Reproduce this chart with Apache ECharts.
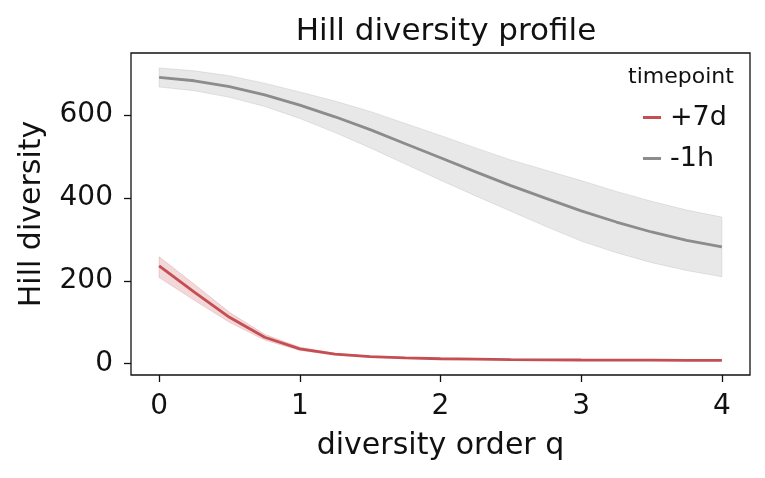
<!DOCTYPE html>
<html>
<head>
<meta charset="utf-8">
<script src="https://cdn.jsdelivr.net/npm/echarts@6/dist/echarts.min.js"></script>
<style>html,body{margin:0;padding:0;background:#fff;}#c{width:765px;height:478px;}</style>
</head>
<body>
<div id="c"></div>
<script>
const q = [0,0.25,0.5,0.75,1,1.25,1.5,1.75,2,2.25,2.5,2.75,3,3.25,3.5,3.75,4];
const red_mean  = [236,173,112,64,36,23,17,14,12,11,10,9.5,9,8.7,8.5,8.2,8];
const red_lower = [208,153,100,57,32,21,16,13,11,10,9.3,8.8,8.4,8.1,7.9,7.6,7.4];
const red_upper = [258,192,124,71,40,25,18.5,15,13,12,10.8,10.2,9.6,9.3,9.1,8.8,8.6];
const gray_mean  = [691,683,669,649,624,596,565,531,497,463,430,399,369,342,318,298,282];
const gray_lower = [668,659,643,621,592,558,521,482,443,405,368,331,296,268,244,225,210];
const gray_upper = [714,707,695,677,656,634,609,580,551,521,492,467,442,416,392,371,354];
const xTicks = [0,1,2,3,4];
const yTicks = [0,200,400,600];
const seriesNames = ['+7d','-1h'];

const RED = '#c44e52', GRAY = '#8c8c8c';
const pts = arr => q.map((x,i)=>[x,arr[i]]);

function band(lower, upper, fill, stroke){
  return {
    type:'custom', silent:true, z:1,
    data:[[q[0], lower[0]]],
    renderItem:(params, api)=>{
      const points = [];
      for (let i=0;i<q.length;i++) points.push(api.coord([q[i], upper[i]]));
      for (let i=q.length-1;i>=0;i--) points.push(api.coord([q[i], lower[i]]));
      return {type:'polygon', shape:{points}, style:{fill, stroke, lineWidth:1}};
    }
  };
}

const chart = echarts.init(document.getElementById('c'), null, {renderer:'canvas'});
const FONT = 'DejaVu Sans';
const TXT = '#111';
chart.setOption({
  animation:false,
  textStyle:{fontFamily:FONT},
  title:{text:'Hill diversity profile', left:441, top:11, textAlign:'center',
    textStyle:{fontFamily:FONT, fontSize:31, fontWeight:'normal', color:TXT}},
  grid:{left:131, right:15, top:53, bottom:103, show:true, borderColor:TXT, borderWidth:1.3, backgroundColor:'transparent'},
  legend:{
    data:seriesNames.map(n=>({name:n})),
    orient:'vertical', left:638, top:99,
    itemWidth:18, itemHeight:3, itemGap:14,
    icon:'rect',
    textStyle:{fontFamily:FONT, fontSize:27, color:TXT, padding:[0,0,0,4]}
  },
  graphic:[{type:'text', left:628, top:66, style:{text:'timepoint', font:'22px "DejaVu Sans"', fill:TXT}}],
  xAxis:{type:'value', min:-0.2, max:4.2,
    axisLine:{show:false, onZero:false}, splitLine:{show:false},
    axisTick:{show:true, length:7, lineStyle:{color:TXT, width:1.3}, customValues:xTicks},
    axisLabel:{fontSize:28, color:TXT, margin:18, customValues:xTicks, formatter:v=>String(v)},
    name:'diversity order q', nameLocation:'middle', nameGap:56,
    nameTextStyle:{fontSize:30, color:TXT}},
  yAxis:{type:'value', min:-27.2, max:750,
    axisLine:{show:false, onZero:false}, splitLine:{show:false},
    axisTick:{show:true, length:7, lineStyle:{color:TXT, width:1.3}, customValues:yTicks},
    axisLabel:{fontSize:28, color:TXT, margin:18, customValues:yTicks, formatter:v=>String(v)},
    name:'Hill diversity', nameLocation:'middle', nameGap:84, nameRotate:90,
    nameTextStyle:{fontSize:30, color:TXT}},
  series:[
    band(red_lower, red_upper, 'rgba(196,78,82,0.22)', 'rgba(196,78,82,0.2)'),
    band(gray_lower, gray_upper, 'rgba(140,140,140,0.2)', 'rgba(140,140,140,0.2)'),
    {name:'+7d', type:'line', data:pts(red_mean), symbol:'none', color:RED, lineStyle:{color:RED, width:2.8}, z:3},
    {name:'-1h', type:'line', data:pts(gray_mean), symbol:'none', color:GRAY, lineStyle:{color:GRAY, width:2.8}, z:3}
  ]
});
</script>
</body>
</html>
